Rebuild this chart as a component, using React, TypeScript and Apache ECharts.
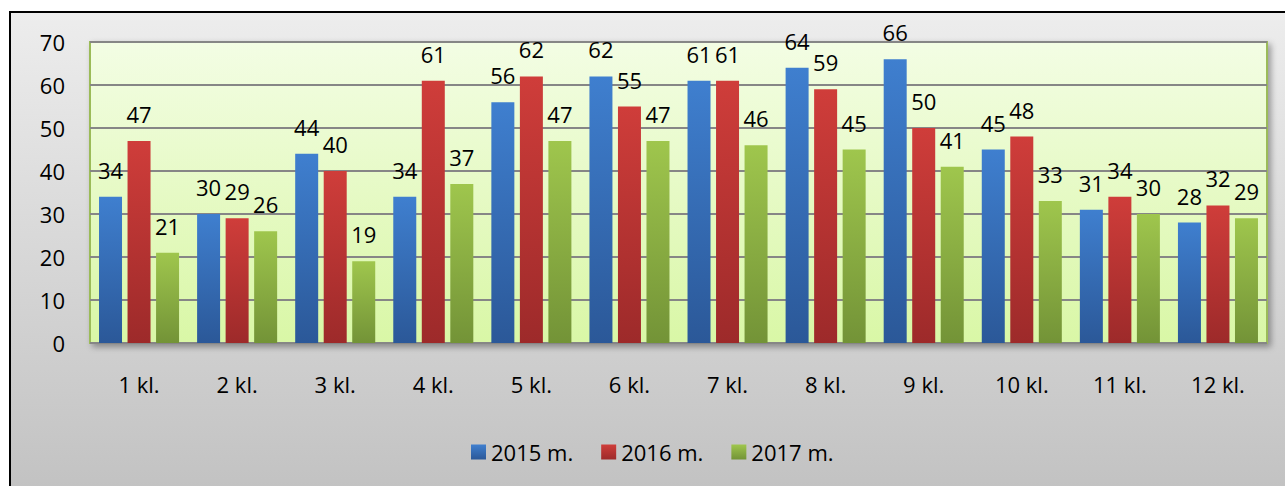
import React, { useEffect, useRef } from "react";
import * as echarts from "echarts";

const categories = ["1 kl.", "2 kl.", "3 kl.", "4 kl.", "5 kl.", "6 kl.", "7 kl.", "8 kl.", "9 kl.", "10 kl.", "11 kl.", "12 kl."];
const series2015 = [34, 30, 44, 34, 56, 62, 61, 64, 66, 45, 31, 28];
const series2016 = [47, 29, 40, 61, 62, 55, 61, 59, 50, 48, 34, 32];
const series2017 = [21, 26, 19, 37, 47, 47, 46, 45, 41, 33, 30, 29];
const seriesNames = ["2015 m.", "2016 m.", "2017 m."];
const yTicks = { min: 0, max: 70, interval: 10 };

const FONT = "Open Sans";

function grad(top: string, bottom: string) {
  return new echarts.graphic.LinearGradient(0, 0, 0, 1, [
    { offset: 0, color: top },
    { offset: 1, color: bottom },
  ]);
}

export default function App() {
  const ref = useRef<HTMLDivElement>(null);
  useEffect(() => {
    if (!ref.current) return;
    const chart = echarts.init(ref.current, undefined, { renderer: "svg" });
    const label = {
      show: true,
      position: "top" as const,
      distance: 16,
      color: "#000",
      fontSize: 22,
      fontFamily: FONT,
    };
    const mk = (name: string, data: number[], top: string, bottom: string) => ({
      name,
      type: "bar" as const,
      data,
      barWidth: 23,
      barGap: "24%",
      itemStyle: { color: grad(top, bottom) },
      label,
    });
    chart.setOption({
      animation: false,
      graphic: [
        {
          type: "rect",
          silent: true,
          z: -10,
          shape: { x: 10, y: 12, width: 1290, height: 490 },
          style: {
            fill: grad("#ededed", "#c1c1c1"),
            stroke: "#000",
            lineWidth: 2,
          },
        },
      ],
      grid: {
        left: 90,
        top: 42,
        right: 18,
        bottom: 143,
        show: true,
        backgroundColor: grad("#f3fde4", "#d9f7a6"),
        borderColor: "#9bbb59",
        borderWidth: 2,
        shadowColor: "rgba(0,0,0,0.35)",
        shadowBlur: 6,
        shadowOffsetX: 3,
        shadowOffsetY: 3,
      },
      legend: {
        left: 466,
        top: 436,
        icon: "rect",
        itemWidth: 15,
        itemHeight: 15,
        itemGap: 28,
        textStyle: { fontSize: 22, fontFamily: FONT, color: "#000" },
        data: seriesNames,
      },
      xAxis: {
        type: "category",
        data: categories,
        axisLine: { show: false },
        axisTick: { show: false },
        axisLabel: { fontSize: 22, fontFamily: FONT, color: "#000", margin: 30 },
      },
      yAxis: {
        type: "value",
        min: yTicks.min,
        max: yTicks.max,
        interval: yTicks.interval,
        axisLine: { show: false },
        axisTick: { show: false },
        axisLabel: { fontSize: 22, fontFamily: FONT, color: "#000", margin: 25 },
        splitLine: { lineStyle: { color: "#868686", width: 2 } },
      },
      series: [
        mk(seriesNames[0], series2015, "#3f7fcf", "#2b5898"),
        mk(seriesNames[1], series2016, "#cf3d3a", "#9d2a2a"),
        mk(seriesNames[2], series2017, "#9fc64d", "#739337"),
      ],
    });
    return () => chart.dispose();
  }, []);
  return (
    <div
      ref={ref}
      style={{ position: "absolute", left: 0, top: 0, width: 1285, height: 486, background: "#fff" }}
    />
  );
}
